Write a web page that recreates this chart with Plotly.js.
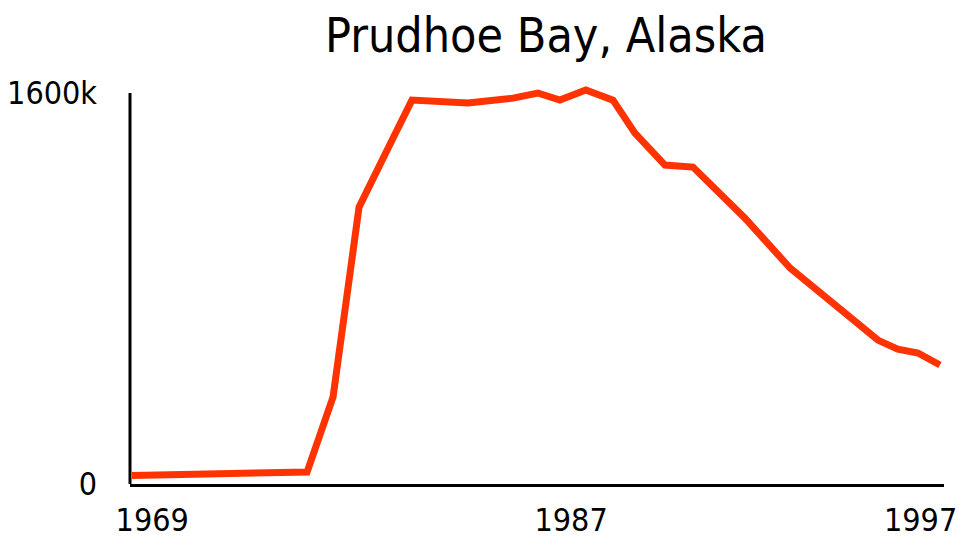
<!DOCTYPE html>
<html>
<head>
<meta charset="utf-8">
<script src="https://cdn.plot.ly/plotly-3.0.1.min.js"></script>
<style>html,body{margin:0;padding:0;background:#fff;}#chart{width:959px;height:540px;}</style>
</head>
<body>
<div id="chart"></div>
<script>
// Position along the time axis (decimal years)
const xPos = [1969.0, 1975.06, 1975.96, 1976.86, 1978.0, 1978.69, 1980.63, 1982.19, 1983.05, 1983.81, 1984.71, 1985.65, 1986.41, 1987.45, 1988.42, 1990.22, 1991.78, 1994.82, 1995.51, 1996.21, 1996.97];
// Production, thousand barrels per day
const production = [35, 49, 356, 1133, 1407, 1571, 1559, 1579, 1600, 1571, 1612, 1571, 1436, 1305, 1297, 1088, 884, 589, 552, 536, 487];
const xTickVals = [1969.7, 1984.2, 1996.3];
const xTickText = ['1969', '1987', '1997'];
const yTickVals = [0, 1600];
const yTickText = ['0', '1600k'];
const yAxisTop = 1600;

const FONT = '"Liberation Sans Narrow", "Arial Narrow", "DejaVu Sans Condensed", sans-serif';

const trace = {
  x: xPos,
  y: production,
  type: 'scatter',
  mode: 'lines',
  line: {color: '#FF3300', width: 7},
  cliponaxis: false,
  hoverinfo: 'skip'
};

const layout = {
  width: 959,
  height: 540,
  margin: {l: 130, r: 15, t: 83, b: 56},
  paper_bgcolor: '#fff',
  plot_bgcolor: '#fff',
  showlegend: false,
  title: {
    text: 'Prudhoe Bay, Alaska',
    font: {family: FONT, size: 48, color: '#000'},
    x: 0.511, xref: 'paper', xanchor: 'center',
    y: 0.935, yref: 'container', yanchor: 'middle'
  },
  xaxis: {
    range: [1968.93, 1997.11],
    showgrid: false, zeroline: false,
    showline: true, linecolor: '#000', linewidth: 3,
    ticks: '',
    tickmode: 'array', tickvals: xTickVals, ticktext: xTickText,
    tickfont: {family: FONT, size: 32, color: '#000'},
    ticklabelstandoff: 6,
    ticklabeloverflow: 'allow'
  },
  yaxis: {
    range: [0, 1641],
    showgrid: false, zeroline: false,
    showline: false,
    ticks: '',
    tickmode: 'array', tickvals: yTickVals, ticktext: yTickText,
    tickfont: {family: FONT, size: 32, color: '#000'},
    ticklabelstandoff: 32,
    ticklabeloverflow: 'allow'
  },
  shapes: [{
    type: 'line', xref: 'paper', yref: 'y',
    x0: 0, x1: 0, y0: 0, y1: yAxisTop,
    line: {color: '#000', width: 3}
  }]
};

Plotly.newPlot('chart', [trace], layout, {displayModeBar: false, staticPlot: true});
</script>
</body>
</html>
